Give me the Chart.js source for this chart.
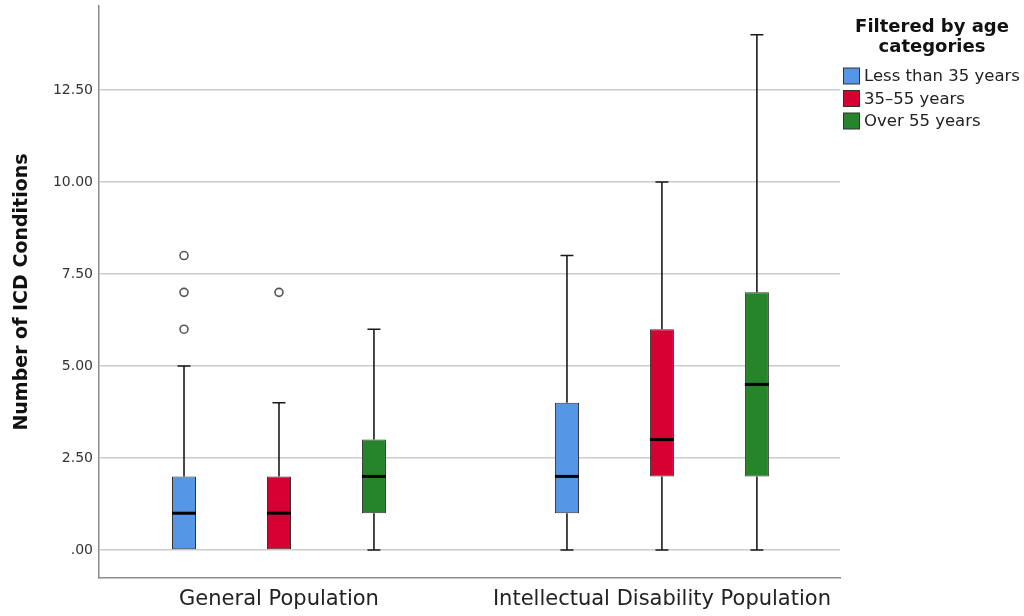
<!DOCTYPE html>
<html>
<head>
<meta charset="utf-8">
<script src="https://cdn.jsdelivr.net/npm/chart.js@4.4.1/dist/chart.umd.min.js"></script>
<style>
  body { margin: 0; background: #fff; }
  canvas { display: block; }
</style>
</head>
<body>
<canvas id="boxChart" width="1024" height="616"></canvas>
<script>
// Box plot: ICD conditions by population and age category

const groups = ['General Population', 'Intellectual Disability Population'];
const ageLabels = ['Less than 35 years', '35–55 years', 'Over 55 years'];
const ageColors = ['#5596E6', '#D60032', '#26852A'];
const yTicks = [0, 2.5, 5, 7.5, 10, 12.5];

// five-number summaries, one value per group
const under35Min = [0, 0];
const under35Q1 = [0, 1];
const under35Median = [1, 2];
const under35Q3 = [2, 4];
const under35Max = [5, 8];
const under35Outliers = [[6, 7, 8], []];

const midAgeMin = [0, 0];
const midAgeQ1 = [0, 2];
const midAgeMedian = [1, 3];
const midAgeQ3 = [2, 6];
const midAgeMax = [4, 10];
const midAgeOutliers = [[7], []];

const over55Min = [0, 0];
const over55Q1 = [1, 2];
const over55Median = [2, 4.5];
const over55Q3 = [3, 7];
const over55Max = [6, 14];
const over55Outliers = [[], []];

const series = [
    { min: under35Min, q1: under35Q1, median: under35Median, q3: under35Q3, max: under35Max, outliers: under35Outliers },
    { min: midAgeMin, q1: midAgeQ1, median: midAgeMedian, q3: midAgeQ3, max: midAgeMax, outliers: midAgeOutliers },
    { min: over55Min, q1: over55Q1, median: over55Median, q3: over55Q3, max: over55Max, outliers: over55Outliers }
];

const FONT = "'DejaVu Sans', Verdana, sans-serif";

const datasets = series.map((s, k) => ({
    label: ageLabels[k],
    data: groups.map((g, i) => ({ x: i, y: [s.q1[i], s.q3[i]] })),
    backgroundColor: ageColors[k],
    borderColor: '#333333',
    borderWidth: 1,
    borderSkipped: false,
    categoryPercentage: 0.744,
    barPercentage: 0.253
}));

// whiskers, medians and outliers drawn on top of the bar boxes
const boxExtras = {
    id: 'boxExtras',
    afterDatasetsDraw(chart) {
        const ctx = chart.ctx;
        const yScale = chart.scales.y;
        ctx.save();
        series.forEach((s, k) => {
            const meta = chart.getDatasetMeta(k);
            meta.data.forEach((bar, i) => {
                const x = bar.x;
                const half = bar.width / 2;
                const yMin = yScale.getPixelForValue(s.min[i]);
                const yQ1 = yScale.getPixelForValue(s.q1[i]);
                const yQ3 = yScale.getPixelForValue(s.q3[i]);
                const yMax = yScale.getPixelForValue(s.max[i]);
                const yMed = yScale.getPixelForValue(s.median[i]);

                ctx.strokeStyle = '#1a1a1a';
                ctx.lineWidth = 1.6;
                ctx.beginPath();
                ctx.moveTo(x, yQ1); ctx.lineTo(x, yMin);
                ctx.moveTo(x, yQ3); ctx.lineTo(x, yMax);
                if (s.min[i] < s.q1[i]) { ctx.moveTo(x - 6.5, yMin); ctx.lineTo(x + 6.5, yMin); }
                ctx.moveTo(x - 6.5, yMax); ctx.lineTo(x + 6.5, yMax);
                ctx.stroke();

                ctx.strokeStyle = '#000';
                ctx.lineWidth = 3;
                ctx.beginPath();
                ctx.moveTo(x - half, yMed); ctx.lineTo(x + half, yMed);
                ctx.stroke();

                ctx.strokeStyle = '#555';
                ctx.lineWidth = 1.6;
                s.outliers[i].forEach(v => {
                    ctx.beginPath();
                    ctx.arc(x, yScale.getPixelForValue(v), 4, 0, Math.PI * 2);
                    ctx.stroke();
                });
            });
        });
        ctx.restore();
    }
};

// legend block at the top right
const sideLegend = {
    id: 'sideLegend',
    afterDraw(chart) {
        const ctx = chart.ctx;
        ctx.save();
        ctx.fillStyle = '#111';
        ctx.font = 'bold 18px ' + FONT;
        ctx.textAlign = 'center';
        ctx.textBaseline = 'middle';
        ctx.fillText('Filtered by age', 932, 27);
        ctx.fillText('categories', 932, 47);

        ctx.font = '16.5px ' + FONT;
        ctx.textAlign = 'left';
        chart.data.datasets.forEach((ds, k) => {
            const y = 76 + k * 22.5;
            ctx.fillStyle = ds.backgroundColor;
            ctx.fillRect(843.5, y - 8, 16, 16);
            ctx.strokeStyle = '#333';
            ctx.lineWidth = 1;
            ctx.strokeRect(843.5, y - 8, 16, 16);
            ctx.fillStyle = '#222';
            ctx.fillText(ds.label, 864, y + 1);
        });
        ctx.restore();
    }
};

new Chart(document.getElementById('boxChart').getContext('2d'), {
    type: 'bar',
    data: { datasets: datasets },
    options: {
        responsive: false,
        animation: false,
        layout: { padding: { top: 6, right: 184, bottom: 0, left: 0 } },
        plugins: {
            legend: { display: false },
            tooltip: { enabled: false }
        },
        scales: {
            x: {
                type: 'linear',
                offset: false,
                min: -0.47,
                max: 1.465,
                afterBuildTicks: scale => { scale.ticks = groups.map((g, i) => ({ value: i })); },
                afterFit: scale => { scale.height = 38; scale.paddingLeft = 0; scale.paddingRight = 0; },
                grid: { display: false, drawTicks: false, offset: false },
                border: { display: true, color: '#8c8c8c', width: 1.5 },
                ticks: {
                    padding: 9,
                    color: '#222',
                    font: { family: FONT, size: 21 },
                    callback: v => groups[v]
                }
            },
            y: {
                min: -0.76,
                max: 14.78,
                afterBuildTicks: scale => { scale.ticks = yTicks.map(v => ({ value: v })); },
                afterFit: scale => { scale.width = 99; scale.paddingTop = 0; scale.paddingBottom = 0; },
                grid: { color: '#cccccc', lineWidth: 1.5, drawTicks: false },
                border: { display: true, color: '#8c8c8c', width: 1.5 },
                ticks: {
                    padding: 6,
                    color: '#333',
                    font: { family: FONT, size: 14 },
                    callback: v => (v === 0 ? '.00' : v.toFixed(2))
                },
                title: {
                    display: true,
                    text: 'Number of ICD Conditions',
                    color: '#111',
                    padding: { top: 11, bottom: 0 },
                    font: { family: FONT, size: 19, weight: 'bold' }
                }
            }
        }
    },
    plugins: [boxExtras, sideLegend]
});
</script>
</body>
</html>
